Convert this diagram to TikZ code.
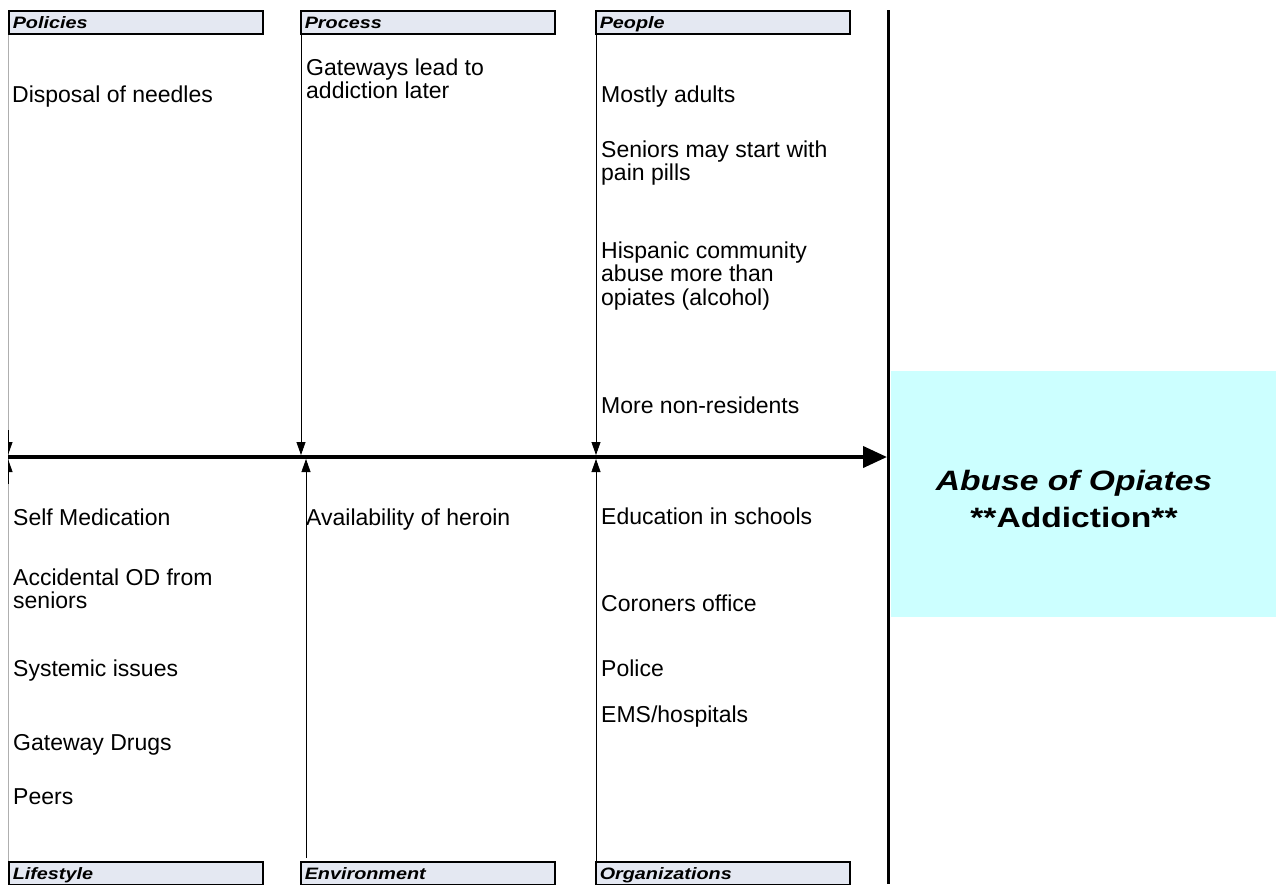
\documentclass[tikz,border=0pt]{standalone}
\usepackage{graphicx}
\usepackage{fontspec}
\setmainfont{Liberation Sans}
\usetikzlibrary{arrows.meta}
\definecolor{hdrfill}{RGB}{228,232,242}
\definecolor{effcyan}{RGB}{204,255,255}
\definecolor{polgrey}{RGB}{175,175,175}
\newcommand\bodyfont{\fontsize{23}{23.5}\selectfont}
\newcommand\hdrtext[1]{\fontsize{16.5}{18}\selectfont\scalebox{1.2}[1]{\bfseries\itshape #1}}
\newcommand\causetext[1]{\parbox[t]{262pt}{\raggedright\bodyfont #1}}
\begin{document}
\begin{tikzpicture}[x=1pt,y=-1pt,
  hdr/.style={draw, line width=1.5pt, fill=hdrfill, anchor=north west,
    minimum width=254pt, minimum height=23pt, text width=246pt,
    inner xsep=4pt, inner ysep=0pt, align=left, text height=12pt, text depth=0pt},
  cause/.style={anchor=base west, inner sep=0pt},
  branch/.style={line width=0.8pt, -{Triangle[length=13pt,width=9pt]}},
  spine/.style={line width=4pt, -{Triangle[length=24pt,width=21pt]}},
  frameline/.style={line width=3pt}
]
\useasboundingbox (0,0) rectangle (1276,884);
\begin{scope}
\clip (0,0) rectangle (1276,884);

% effect box
\node[fill=effcyan, anchor=north west, minimum width=385pt, minimum height=246pt, inner sep=0pt] (eff) at (891,371) {};
\node[anchor=base, inner sep=0pt] (efftext) at (1074,490)
  {\parbox[t]{380pt}{\centering\fontsize{28}{37}\selectfont
   \scalebox{1.2}[1]{\bfseries\itshape Abuse of Opiates}\\
   \scalebox{1.2}[1]{\bfseries **Addiction**}}};

% headers
\node[hdr] (hpol)  at (8,10)   {\hdrtext{Policies}};
\node[hdr] (hproc) at (300,10) {\hdrtext{Process}};
\node[hdr] (hpeo)  at (595,10) {\hdrtext{People}};
\node[hdr] (hlife) at (8,861)   {\hdrtext{Lifestyle}};
\node[hdr] (henv)  at (300,861) {\hdrtext{Environment}};
\node[hdr] (horg)  at (595,861) {\hdrtext{Organizations}};

% joints on spine
\coordinate (tail) at (8,457);
\coordinate (head) at (887,457);
\coordinate (jprocT) at (301,455);
\coordinate (jprocB) at (306,459);
\coordinate (jpeoT) at (596,455);
\coordinate (jpeoB) at (596,459);
\coordinate (jpolT) at (8,455);
\coordinate (jpolB) at (8,459);
\coordinate (jpolTs) at (8,430);
\coordinate (jpolBs) at (8,484);
\coordinate (frameT) at (888.5,10);
\coordinate (frameB) at (888.5,884);

% branches
\draw[polgrey, line width=1pt] ([xshift=0.5pt]hpol.south west) -- ([xshift=0.5pt]hlife.north west);
\draw[branch] ([xshift=1pt]hproc.south west) -- (jprocT);
\draw[branch] ([xshift=6pt,yshift=3pt]henv.north west) -- (jprocB);
\draw[branch] ([xshift=1pt]hpeo.south west) -- (jpeoT);
\draw[branch] ([xshift=1pt]horg.north west) -- (jpeoB);
\begin{scope}
  \clip (8,0) rectangle (40,884);
  \draw[branch] (jpolTs) -- (jpolT);
  \draw[branch] (jpolBs) -- (jpolB);
\end{scope}

% spine and frame
\draw[spine] (tail) -- (head);
\draw[frameline] (frameT) -- (frameB);

% causes
\node[cause] (c1) at (12,102) {\causetext{Disposal of needles}};
\node[cause] (c2) at (306,75) {\causetext{Gateways lead to\\addiction later}};
\node[cause] (c3) at (601,102) {\causetext{Mostly adults}};
\node[cause] (c4) at (601,157) {\causetext{Seniors may start with\\pain pills}};
\node[cause] (c5) at (601,258) {\causetext{Hispanic community\\abuse more than\\opiates (alcohol)}};
\node[cause] (c6) at (601,413) {\causetext{More non-residents}};

\node[cause] (c7) at (13,525) {\causetext{Self Medication}};
\node[cause] (c8) at (13,585) {\causetext{Accidental OD from\\seniors}};
\node[cause] (c9) at (13,676) {\causetext{Systemic issues}};
\node[cause] (c10) at (13,750) {\causetext{Gateway Drugs}};
\node[cause] (c11) at (13,804) {\causetext{Peers}};

\node[cause] (c12) at (306,525) {\causetext{Availability of heroin}};

\node[cause] (c13) at (601,524) {\causetext{Education in schools}};
\node[cause] (c14) at (601,611) {\causetext{Coroners office}};
\node[cause] (c15) at (601,676) {\causetext{Police}};
\node[cause] (c16) at (601,722) {\causetext{EMS/hospitals}};
\end{scope}
\end{tikzpicture}
\end{document}
